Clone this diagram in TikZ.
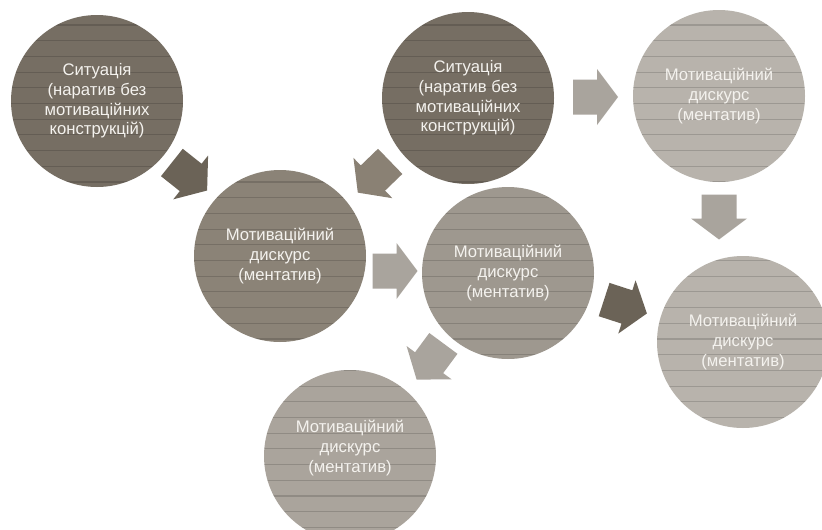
\documentclass[tikz,border=0pt]{standalone}
\usepackage{fontspec}
\setmainfont{Liberation Sans}
\usetikzlibrary{calc}
\definecolor{cdark}{HTML}{766E63}
\definecolor{cmid}{HTML}{8B8377}
\definecolor{cmidl}{HTML}{9E988F}
\definecolor{clow}{HTML}{AAA49C}
\definecolor{clight}{HTML}{B8B3AC}
\definecolor{adark}{HTML}{6B6357}
\definecolor{amid}{HTML}{8A8174}
\definecolor{alight}{HTML}{A9A49D}
\definecolor{txt}{HTML}{F4F2EE}
% #1 colour, #2 from node, #3 to node, #4 angle, #5 offset
\newcommand\barrow[5]{%
  \coordinate (bm) at ($($(#2)!0.5!(#3)$)+(#5)$);
  \fill[#1, shift={(bm)}, rotate=#4]
    (-22.5,17.5) -- (1.5,17.5) -- (1.5,28) -- (22.5,0) -- (1.5,-28)
    -- (1.5,-17.5) -- (-22.5,-17.5) -- cycle;
}
\begin{document}
\begin{tikzpicture}[x=1pt,y=-1pt,
  circ/.style={circle, minimum size=172pt, inner sep=0pt, outer sep=0pt, draw=none},
  lbl/.style={align=center, text=txt, font=\fontsize{16.7}{19.6}\selectfont, inner sep=0pt}]
\useasboundingbox (0,0) rectangle (822,530);
\fill[white] (0,0) rectangle (822,530);
% circles
\node[circ, fill=cdark]  (c1) at (97,101) {};
\node[circ, fill=cdark]  (c2) at (468,98) {};
\node[circ, fill=clight] (c3) at (719,96) {};
\node[circ, fill=cmid]   (c4) at (280,256) {};
\node[circ, fill=cmidl]  (c5) at (508,273) {};
\node[circ, fill=clow]   (c6) at (350,456) {};
\node[circ, fill=clight] (c7) at (743,342) {};
% horizontal line texture
\begin{scope}
  \clip (c1.center) circle[radius=86pt] (c2.center) circle[radius=86pt]
        (c3.center) circle[radius=86pt] (c4.center) circle[radius=86pt]
        (c5.center) circle[radius=86pt] (c6.center) circle[radius=86pt]
        (c7.center) circle[radius=86pt];
  \foreach \k in {0,...,35}
    \draw[black, opacity=0.15, line width=1.1pt] (0,9.3+15.7*\k) -- (830,9.3+15.7*\k);
\end{scope}
% texts
\node[lbl] (t1) at (c1) {Ситуація\\(наратив без\\мотиваційних\\конструкцій)};
\node[lbl] (t2) at (c2) {Ситуація\\(наратив без\\мотиваційних\\конструкцій)};
\node[lbl] (t3) at (c3) {Мотиваційний\\дискурс\\(ментатив)};
\node[lbl] (t4) at (c4) {Мотиваційний\\дискурс\\(ментатив)};
\node[lbl] (t5) at (c5) {Мотиваційний\\дискурс\\(ментатив)};
\node[lbl] (t6) at ($(c6)+(0,-8)$) {Мотиваційний\\дискурс\\(ментатив)};
\node[lbl] (t7) at (c7) {Мотиваційний\\дискурс\\(ментатив)};
% block arrows
\barrow{adark}{c1}{c4}{-38.5}{1,-2}
\barrow{amid}{c2}{c4}{-136}{0,0}
\barrow{alight}{c2}{c3}{0}{2,0}
\barrow{alight}{c3}{c7}{-90}{-12,-2}
\barrow{alight}{c4}{c5}{0}{1,6.5}
\barrow{adark}{c5}{c7}{-18}{0,-1}
\barrow{alight}{c5}{c6}{-126.5}{1,-3}
\end{tikzpicture}
\end{document}
